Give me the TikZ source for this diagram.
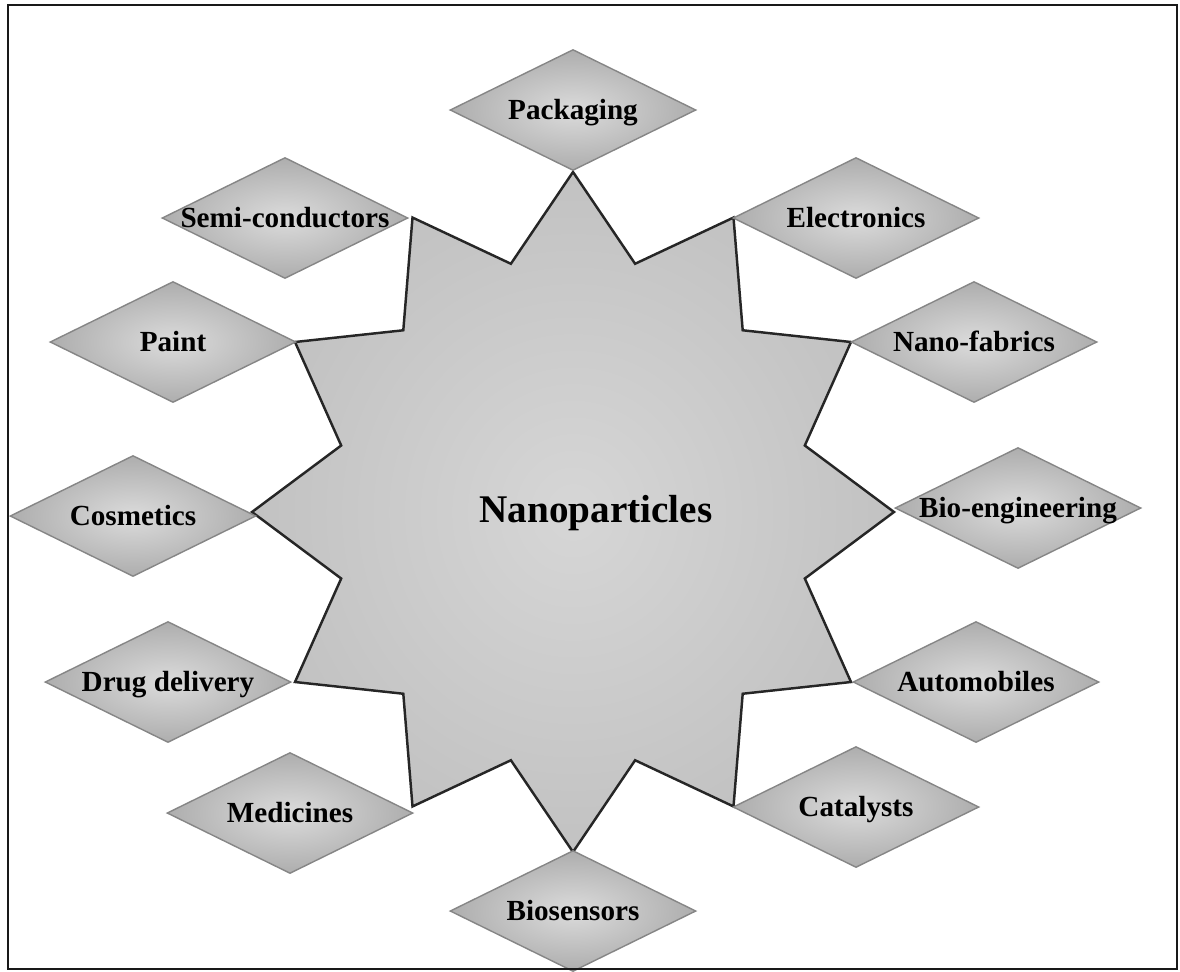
\documentclass[tikz,border=0pt]{standalone}
\usepackage{fontspec}
\setmainfont{Liberation Serif}
\usepackage{tikz}
\usetikzlibrary{shapes.geometric}
\usetikzlibrary{positioning}

\newcommand{\dlabel}[1]{\makebox[0pt]{#1}}

\tikzset{
    app/.style={diamond, draw=gray!95, line width=0.8pt,
                inner color=white!86!black, outer color=white!68!black,
                minimum width=4.92cm, minimum height=2.42cm, inner sep=0pt,
                text height=11.3pt, text depth=0pt,
                font=\bfseries\fontsize{16.6}{18}\selectfont},
    starbody/.style={draw=black!85, line width=1.4pt, line join=miter,
                inner color=white!84!black, outer color=white!76!black},
}

\begin{document}
\begin{tikzpicture}[x=0.02cm,y=-0.02cm]
\useasboundingbox (0,0) rectangle (1180,971);

% the star
\begin{scope}[shift={(573,512)}]
    \path[starbody] (90:321 and 340)
        \foreach \a in {90,120,...,390} { -- ({\a+15}:240 and 257) -- ({\a+30}:321 and 340) }
        -- (435:240 and 257) -- cycle;
\end{scope}
\node[font=\bfseries\fontsize{22.3}{24}\selectfont, anchor=base] (np) at (596,522) {Nanoparticles};

% the uses
\begin{scope}
    \foreach \n/\p/\t in {pack/{573,110}/Packaging, elec/{856,218}/Electronics,
                          fabr/{974,342}/Nano-fabrics, bioe/{1018,508}/Bio-engineering,
                          auto/{976,682}/Automobiles, cata/{856,807}/Catalysts,
                          bios/{573,911}/Biosensors, medi/{290,813}/Medicines,
                          drug/{168,682}/Drug delivery, cosm/{133,516}/Cosmetics,
                          pain/{173,342}/Paint, semi/{285,218}/Semi-conductors}
        \node[app] (\n) at (\p) {\dlabel{\t}};
\end{scope}

% frame
\draw[line width=1.4pt, black!90] (8,5) rectangle (1177,969);
\end{tikzpicture}
\end{document}
